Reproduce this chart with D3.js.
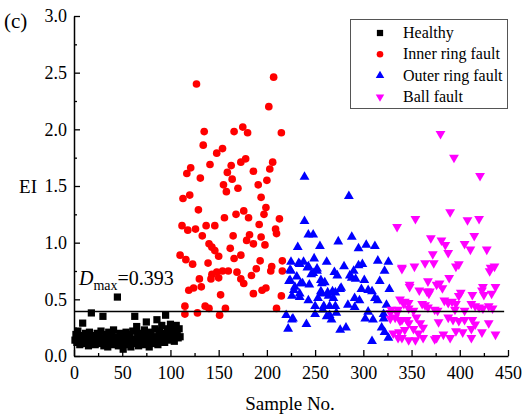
<!DOCTYPE html>
<html>
<head>
<meta charset="utf-8">
<script src="https://cdn.jsdelivr.net/npm/d3@7"></script>
<style>
  body { margin: 0; background: #fff; }
  svg text { font-family: "Liberation Serif", "Times New Roman", serif; }
</style>
</head>
<body>
<svg width="524" height="417"></svg>
<script>
// canvas size
const width = 524
const height = 417

// healthy samples, 1..110 (y only, x is the sample number)
const healthyY = [0.14,0.19,0.12,0.22,0.16,0.10,0.18,0.13,0.29,0.15,
  0.11,0.20,0.14,0.17,0.09,0.21,0.13,0.38,0.16,0.12,
  0.18,0.10,0.15,0.20,0.13,0.17,0.11,0.22,0.14,0.35,
  0.09,0.16,0.19,0.12,0.08,0.21,0.15,0.13,0.18,0.10,
  0.23,0.14,0.12,0.17,0.52,0.09,0.16,0.20,0.11,0.13,
  0.06,0.18,0.14,0.21,0.10,0.16,0.12,0.19,0.08,0.15,
  0.22,0.13,0.35,0.11,0.26,0.17,0.09,0.20,0.14,0.12,
  0.18,0.10,0.23,0.15,0.30,0.12,0.19,0.08,0.16,0.21,
  0.13,0.17,0.11,0.24,0.14,0.32,0.10,0.18,0.22,0.13,
  0.27,0.15,0.20,0.12,0.36,0.17,0.24,0.14,0.21,0.28,
  0.16,0.19,0.25,0.13,0.22,0.27,0.18,0.16,0.24,0.17]

// inner ring fault: [sample no, EI]
const innerPts = [[127,2.40],[207,2.46],[202,2.20],[135,1.98],[166,1.98],[175,2.02],[180,1.97],[215,1.97],
  [134,1.86],[148,1.79],[154,1.83],[141,1.69],[121,1.66],[117,1.61],[131,1.57],[163,1.68],[159,1.62],
  [164,1.56],[173,1.71],[178,1.74],[186,1.63],[206,1.71],[203,1.65],[200,1.55],[191,1.51],[155,1.51],
  [158,1.45],[170,1.48],[120,1.42],[113,1.39],[194,1.40],[129,1.29],[168,1.25],[176,1.28],[181,1.22],
  [156,1.22],[199,1.31],[197,1.25],[213,1.21],[192,1.16],[112,1.15],[118,1.11],[126,1.12],[137,1.15],
  [146,1.15],[133,1.06],[165,1.06],[182,1.07],[194,1.05],[209,1.12],[210,1.08],[179,1.02],[186,0.99],
  [198,0.98],[140,0.99],[143,0.96],[146,0.93],[162,0.95],[110,0.89],[116,0.85],[123,0.81],[139,0.82],
  [166,0.86],[173,0.89],[193,0.84],[216,0.84],[143,0.72],[148,0.74],[154,0.75],[160,0.75],[169,0.74],
  [142,0.68],[150,0.69],[184,0.71],[189,0.77],[205,0.79],[204,0.75],[216,0.75],[130,0.68],[173,0.68],
  [176,0.64],[119,0.58],[124,0.60],[132,0.61],[152,0.54],[186,0.55],[195,0.58],[199,0.60],[215,0.53],
  [115,0.44],[136,0.44],[140,0.42],[157,0.42],[210,0.42],[115,0.37],[128,0.38],[151,0.36],[150,0.88]]

// outer ring fault
const outerPts = [[239,1.58],[285,1.41],[239,1.19],[243,1.07],[248,1.07],[274,1.01],[288,1.05],[232,0.96],
  [255,0.97],[295,0.95],[303,0.98],[312,0.97],[225,0.83],[234,0.81],[238,0.83],[262,0.83],[249,0.86],
  [280,0.79],[295,0.80],[299,0.81],[315,0.84],[326,0.83],[225,0.75],[243,0.79],[246,0.72],[252,0.75],
  [270,0.74],[273,0.71],[286,0.71],[290,0.75],[322,0.75],[231,0.70],[223,0.66],[256,0.67],[260,0.65],
  [237,0.64],[244,0.63],[277,0.60],[288,0.69],[292,0.68],[301,0.67],[317,0.66],[228,0.58],[256,0.57],
  [263,0.56],[268,0.57],[276,0.59],[298,0.59],[305,0.58],[309,0.57],[327,0.59],[234,0.52],[243,0.49],
  [253,0.51],[264,0.53],[269,0.51],[291,0.51],[296,0.49],[312,0.51],[315,0.49],[324,0.45],[250,0.44],
  [258,0.41],[271,0.44],[284,0.45],[291,0.43],[220,0.36],[227,0.33],[250,0.37],[265,0.36],[267,0.32],
  [305,0.39],[302,0.33],[310,0.32],[321,0.37],[321,0.33],[241,0.28],[222,0.24],[276,0.23],[282,0.25],
  [319,0.25],[322,0.21],[326,0.16],[309,0.13],[233,0.82],[224,0.76],[242,0.78],[248,0.73],[252,0.77],
  [224,0.67],[229,0.61],[235,0.64],[257,0.64],[226,0.53],[234,0.55],[257,0.55],[271,0.56],[259,0.44],
  [265,0.44],[226,0.32],[262,0.35],[272,0.38]]

// ball fault
const ballPts = [[380,1.96],[394,1.75],[421,1.59],[390,1.27],[354,1.21],[408,1.20],[420,1.21],[335,1.14],
  [415,1.06],[370,1.04],[381,1.02],[385,0.98],[405,0.99],[411,0.94],[388,0.91],[428,0.94],[372,0.90],
  [364,0.82],[373,0.82],[399,0.81],[340,0.78],[353,0.79],[432,0.78],[436,0.79],[431,0.75],[389,0.69],
  [367,0.66],[379,0.64],[382,0.60],[348,0.63],[358,0.58],[366,0.57],[368,0.55],[401,0.56],[399,0.53],
  [413,0.54],[424,0.61],[423,0.58],[437,0.61],[433,0.55],[425,0.54],[338,0.50],[343,0.48],[347,0.47],
  [361,0.46],[364,0.45],[384,0.49],[388,0.47],[392,0.48],[396,0.46],[412,0.46],[416,0.44],[420,0.43],
  [424,0.42],[430,0.44],[434,0.42],[329,0.41],[336,0.41],[347,0.42],[352,0.40],[367,0.43],[374,0.41],
  [377,0.40],[395,0.41],[405,0.40],[333,0.34],[340,0.32],[345,0.32],[355,0.34],[359,0.29],[378,0.30],
  [388,0.34],[393,0.32],[399,0.31],[405,0.32],[413,0.32],[416,0.28],[430,0.29],[337,0.21],[352,0.24],
  [362,0.25],[357,0.20],[383,0.19],[396,0.22],[403,0.21],[412,0.24],[423,0.21],[437,0.19],[336,0.16],
  [347,0.14],[354,0.14],[374,0.15],[412,0.16],[328,0.38],[331,0.20],[340,0.16],[362,0.16],[376,0.16],
  [390,0.16],[396,0.79],[369,0.57],[376,0.63],[340,0.77],[348,0.61],[328,0.33],[338,0.31],[347,0.29],
  [343,0.23],[335,0.38],[342,0.46]]

const legendNames = ["Healthy", "Inner ring fault", "Outer ring fault", "Ball fault"]
const dMax = 0.393
const dMaxRange = [0, 446]
const xTicks = d3.range(0, 451, 50)
const yTicks = d3.range(0, 3.01, 0.5)

var svg = d3.select("svg")

var x = d3.scaleLinear().domain([0, 450]).range([74, 508])
var y = d3.scaleLinear().domain([0, 3]).range([356, 16])

var series = [
  { pts: healthyY.map((v, i) => [i + 1, v]), sym: d3.symbolSquare, size: 52, color: "#000000", rot: 0 },
  { pts: innerPts, sym: d3.symbolCircle, size: 46, color: "#ff0000", rot: 0 },
  { pts: outerPts, sym: d3.symbolTriangle, size: 42, color: "#0000ff", rot: 0 },
  { pts: ballPts, sym: d3.symbolTriangle, size: 42, color: "#ff00ff", rot: 180 }
]

// markers
series.forEach(function(s) {
  svg.append("g").selectAll("path")
    .data(s.pts)
    .enter()
    .append("path")
    .attr("d", d3.symbol().type(s.sym).size(s.size))
    .attr("transform", d => "translate(" + x(d[0]) + "," + y(d[1]) + ") rotate(" + s.rot + ")")
    .style("fill", s.color)
})

// threshold line
svg.append("line")
  .attr("x1", x(dMaxRange[0])).attr("x2", x(dMaxRange[1]))
  .attr("y1", y(dMax)).attr("y2", y(dMax))
  .style("stroke", "#000").style("stroke-width", 1.6)

var dLabel = svg.append("text")
  .attr("x", 79).attr("y", 285)
  .style("font-size", "20px")
dLabel.append("tspan").style("font-style", "italic").text("D")
dLabel.append("tspan").attr("dy", 5).style("font-size", "14px").text("max")
dLabel.append("tspan").attr("dy", -5).text("=" + dMax)

// axes (ticks point inward like Origin)
var xAxis = svg.append("g")
  .attr("transform", "translate(0," + y(0) + ")")
  .call(d3.axisBottom(x).tickValues(xTicks).tickSizeInner(-6).tickSizeOuter(0).tickPadding(10))
svg.append("g")
  .attr("transform", "translate(0," + y(0) + ")")
  .call(d3.axisBottom(x).tickValues(d3.range(25, 450, 50)).tickSize(-3).tickFormat(""))
  .call(g => g.select(".domain").remove())

var yAxis = svg.append("g")
  .attr("transform", "translate(" + x(0) + ",0)")
  .call(d3.axisLeft(y).tickValues(yTicks).tickFormat(d3.format(".1f")).tickSizeInner(-6).tickSizeOuter(0).tickPadding(7))
svg.append("g")
  .attr("transform", "translate(" + x(0) + ",0)")
  .call(d3.axisLeft(y).tickValues(d3.range(0.25, 3, 0.5)).tickSize(-3).tickFormat(""))
  .call(g => g.select(".domain").remove())

svg.selectAll(".domain").style("stroke-width", 1.5)
svg.selectAll(".tick line").style("stroke-width", 1.3)
svg.selectAll(".tick text")
  .style("font-family", "'Liberation Serif', serif")
  .style("font-size", "18px")
  .style("fill", "#000")

// titles
svg.append("text")
  .attr("x", 290).attr("y", 410)
  .attr("text-anchor", "middle")
  .style("font-size", "19px")
  .text("Sample No.")

svg.append("text")
  .attr("x", 28).attr("y", 193)
  .attr("text-anchor", "middle")
  .style("font-size", "19px")
  .text("EI")

svg.append("text")
  .attr("x", 4).attr("y", 28)
  .style("font-size", "21px")
  .text("(c)")

// legend
var legend = svg.append("g")
legend.append("rect")
  .attr("x", 350.5).attr("y", 19.5)
  .attr("width", 157).attr("height", 89)
  .style("fill", "#fff").style("stroke", "#555").style("stroke-width", 1)

var item = legend.selectAll("g.item")
  .data(series)
  .enter()
  .append("g")
  .attr("transform", (d, i) => "translate(380," + (33 + i * 21.3) + ")")
item.append("path")
  .attr("d", d => d3.symbol().type(d.sym).size(d.size * 0.75)())
  .attr("transform", d => "rotate(" + d.rot + ")")
  .style("fill", d => d.color)
item.append("text")
  .attr("x", 23).attr("y", 5)
  .style("font-size", "16px")
  .text((d, i) => legendNames[i])
</script>
</body>
</html>
